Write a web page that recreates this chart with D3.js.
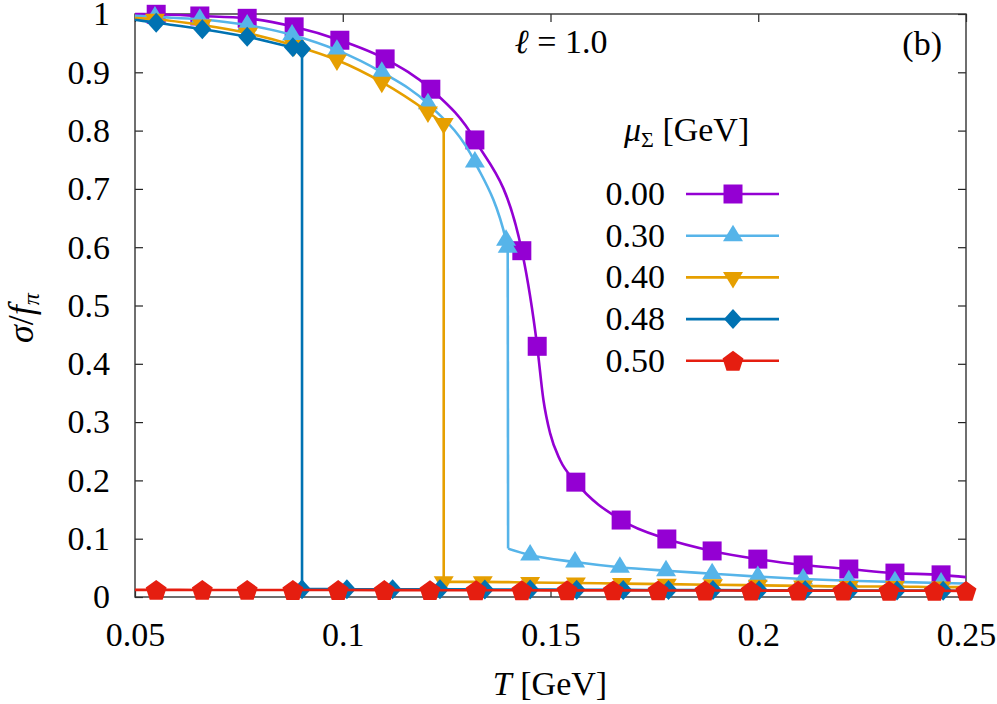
<!DOCTYPE html>
<html><head><meta charset="utf-8">
<script src="https://cdn.jsdelivr.net/npm/d3@7"></script>
<style>body{margin:0;background:#fff}svg{display:block}</style>
</head><body><svg id="c" width="997" height="704"></svg>
<script>
// ---------------- data ----------------
const xTicks = [0.05, 0.1, 0.15, 0.2, 0.25];
const xTickLabels = ["0.05", "0.1", "0.15", "0.2", "0.25"];
const yTicks = [0, 0.1, 0.2, 0.3, 0.4, 0.5, 0.6, 0.7, 0.8, 0.9, 1];
const yTickLabels = ["0", "0.1", "0.2", "0.3", "0.4", "0.5", "0.6", "0.7", "0.8", "0.9", "1"];
const seriesNames = ["0.00", "0.30", "0.40", "0.48", "0.50"];
const seriesColors = ["#9400d3", "#56b4e9", "#e69f00", "#0072b2", "#e51e10"];
const seriesSymbols = ["square", "triangleUp", "triangleDown", "diamond", "pentagon"];

// mu = 0.00 (crossover, single branch)
const mu000_markT = [0.0551, 0.0656, 0.0770, 0.0883, 0.0993, 0.1102, 0.1212, 0.1318, 0.1431, 0.1468, 0.1561, 0.1670, 0.1780, 0.1889, 0.1999, 0.2108, 0.2218, 0.2329, 0.2440];
const mu000_markS = [0.9995, 0.9966, 0.9926, 0.978, 0.955, 0.923, 0.871, 0.784, 0.594, 0.430, 0.197, 0.132, 0.0995, 0.079, 0.065, 0.055, 0.048, 0.041, 0.038];
const mu000_curveT = [0.05, 0.1483, 0.1499, 0.1523, 0.25];
const mu000_curveS = [1.000, 0.338, 0.281, 0.235, 0.034];

// mu = 0.30 (first order, upper and lower branch)
const mu030_hiMarkT = [0.0548, 0.0656, 0.0770, 0.0878, 0.0986, 0.1094, 0.1205, 0.1318, 0.1393, 0.1397];
const mu030_hiMarkS = [0.995, 0.991, 0.981, 0.964, 0.938, 0.900, 0.846, 0.746, 0.612, 0.600];
const mu030_hiCurveT = [0.05];
const mu030_hiCurveS = [0.997];
const mu030_loMarkT = [0.1451, 0.1559, 0.1667, 0.1778, 0.1889, 0.1999, 0.2108, 0.2218, 0.2329, 0.2440];
const mu030_loMarkS = [0.072, 0.060, 0.051, 0.045, 0.040, 0.035, 0.031, 0.028, 0.026, 0.024];
const mu030_loCurveT = [0.1398, 0.25];
const mu030_loCurveS = [0.083, 0.023];

// mu = 0.40
const mu040_hiMarkT = [0.0548, 0.0661, 0.0772, 0.0883, 0.0986, 0.1094, 0.1205, 0.1243];
const mu040_hiMarkS = [0.991, 0.981, 0.967, 0.946, 0.921, 0.883, 0.832, 0.812];
const mu040_hiCurveT = [0.05];
const mu040_hiCurveS = [0.993];
const mu040_loMarkT = [0.1243, 0.1337, 0.1451, 0.1561, 0.1672, 0.1780, 0.1891, 0.1999, 0.2108, 0.2218, 0.2329, 0.2440];
const mu040_loMarkS = [0.026, 0.026, 0.025, 0.024, 0.023, 0.022, 0.021, 0.020, 0.019, 0.018, 0.018, 0.017];
const mu040_loCurveT = [0.25];
const mu040_loCurveS = [0.017];

// mu = 0.48
const mu048_hiMarkT = [0.0551, 0.0662, 0.0770, 0.0880, 0.0902];
const mu048_hiMarkS = [0.985, 0.974, 0.961, 0.943, 0.940];
const mu048_hiCurveT = [0.05];
const mu048_hiCurveS = [0.990];
const mu048_loMarkT = [0.0902, 0.1010, 0.1120, 0.1234, 0.1342, 0.1451, 0.1563, 0.1675, 0.1784, 0.1891, 0.2002, 0.2113, 0.2221, 0.2334, 0.2445];
const mu048_loMarkS = [0.0135, 0.0134, 0.0133, 0.0131, 0.0129, 0.0127, 0.0125, 0.0122, 0.0120, 0.0118, 0.0116, 0.0114, 0.0112, 0.0110, 0.0108];
const mu048_loCurveT = [0.25];
const mu048_loCurveS = [0.0107];

// mu = 0.50 (always restored)
const mu050_markT = [0.0551, 0.0662, 0.0770, 0.0880, 0.0989, 0.1100, 0.1210, 0.1321, 0.1431, 0.1540, 0.1651, 0.1759, 0.1872, 0.1983, 0.2096, 0.2204, 0.2315, 0.2424, 0.2500];
const mu050_markS = [0.0122, 0.0121, 0.0121, 0.0120, 0.0119, 0.0118, 0.0117, 0.0116, 0.0115, 0.0114, 0.0113, 0.0112, 0.0111, 0.0110, 0.0109, 0.0108, 0.0107, 0.0106, 0.0105];
const mu050_curveT = [0.05];
const mu050_curveS = [0.0122];

// ---------------- build ----------------
function zip(T, S) { return T.map((t, i) => [t, S[i]]); }
function branch(mT, mS, cT, cS) {
  const marks = zip(mT, mS);
  const line = marks.concat(zip(cT, cS)).sort((a, b) => a[0] - b[0]);
  return { marks, line };
}
const series = [
  [branch(mu000_markT, mu000_markS, mu000_curveT, mu000_curveS)],
  [branch(mu030_hiMarkT, mu030_hiMarkS, mu030_hiCurveT, mu030_hiCurveS), branch(mu030_loMarkT, mu030_loMarkS, mu030_loCurveT, mu030_loCurveS)],
  [branch(mu040_hiMarkT, mu040_hiMarkS, mu040_hiCurveT, mu040_hiCurveS), branch(mu040_loMarkT, mu040_loMarkS, mu040_loCurveT, mu040_loCurveS)],
  [branch(mu048_hiMarkT, mu048_hiMarkS, mu048_hiCurveT, mu048_hiCurveS), branch(mu048_loMarkT, mu048_loMarkS, mu048_loCurveT, mu048_loCurveS)],
  [branch(mu050_markT, mu050_markS, mu050_curveT, mu050_curveS)]
];

const FONT = "Liberation Serif";
const FS = 34;
const LW = 2.6;
const L = 135, R = 966, TOP = 14, B = 597;
const x = d3.scaleLinear().domain([0.05, 0.25]).range([L, R]);
const y = d3.scaleLinear().domain([0, 1]).range([B, TOP]);

const svg = d3.select("#c");
svg.append("rect").attr("width", 997).attr("height", 704).attr("fill", "#fff");

function styleAxis(g) {
  g.attr("font-family", FONT).attr("font-size", FS);
  g.select(".domain").remove();
  g.selectAll(".tick line").attr("stroke", "#222").attr("stroke-width", 1.2);
  g.selectAll(".tick text").attr("fill", "#000").attr("font-family", FONT).attr("font-size", FS);
}
svg.append("g").attr("transform", `translate(0,${B})`)
  .call(d3.axisBottom(x).tickValues(xTicks).tickSize(-8).tickPadding(25).tickFormat((d, i) => xTickLabels[i]))
  .call(styleAxis);
svg.append("g").attr("transform", `translate(0,${TOP})`)
  .call(d3.axisTop(x).tickValues(xTicks).tickSize(-8).tickFormat(() => ""))
  .call(styleAxis);
svg.append("g").attr("transform", `translate(${L},0)`)
  .call(d3.axisLeft(y).tickValues(yTicks).tickSize(-8).tickPadding(25).tickFormat((d, i) => yTickLabels[i]))
  .call(styleAxis);
svg.append("g").attr("transform", `translate(${R},0)`)
  .call(d3.axisRight(y).tickValues(yTicks).tickSize(-8).tickFormat(() => ""))
  .call(styleAxis);

svg.append("rect").attr("x", L).attr("y", TOP).attr("width", R - L).attr("height", B - TOP)
  .attr("fill", "none").attr("stroke", "#333").attr("stroke-width", 1.4);

function symbolPath(type) {
  const p = d3.path();
  if (type === "square") { const s = 9.5; p.rect(-s, -s, 2 * s, 2 * s); }
  else if (type === "triangleUp") { const w = 10, h = 16.5; p.moveTo(0, -2 * h / 3); p.lineTo(w, h / 3); p.lineTo(-w, h / 3); p.closePath(); }
  else if (type === "triangleDown") { const w = 10, h = 16.5; p.moveTo(0, 2 * h / 3); p.lineTo(w, -h / 3); p.lineTo(-w, -h / 3); p.closePath(); }
  else if (type === "diamond") { const w = 9, h = 10; p.moveTo(0, -h); p.lineTo(w, 0); p.lineTo(0, h); p.lineTo(-w, 0); p.closePath(); }
  else if (type === "pentagon") {
    const r = 11;
    for (let k = 0; k < 5; k++) {
      const a = -Math.PI / 2 + k * 2 * Math.PI / 5;
      const px = r * Math.cos(a), py = r * Math.sin(a) + 1;
      if (k === 0) p.moveTo(px, py); else p.lineTo(px, py);
    }
    p.closePath();
  }
  return p.toString();
}

const line = d3.line().x(d => x(d[0])).y(d => y(d[1])).curve(d3.curveMonotoneX);
const plot = svg.append("g");
series.forEach((branches, si) => {
  const col = seriesColors[si];
  const g = plot.append("g");
  branches.forEach(b => {
    g.append("path").attr("d", line(b.line)).attr("fill", "none")
      .attr("stroke", col).attr("stroke-width", LW).attr("stroke-linejoin", "round");
  });
  if (branches.length === 2) {
    const a = branches[0].line[branches[0].line.length - 1];
    const c = branches[1].line[0];
    g.append("line").attr("x1", x(a[0])).attr("y1", y(a[1])).attr("x2", x(c[0])).attr("y2", y(c[1]))
      .attr("stroke", col).attr("stroke-width", LW);
  }
  const sp = symbolPath(seriesSymbols[si]);
  branches.forEach(b => {
    g.selectAll(null).data(b.marks).enter().append("path")
      .attr("d", sp).attr("fill", col)
      .attr("transform", d => `translate(${x(d[0])},${y(d[1])})`);
  });
});

function txt(xp, yp, anchor) {
  return svg.append("text").attr("x", xp).attr("y", yp).attr("text-anchor", anchor)
    .attr("font-family", FONT).attr("font-size", FS);
}

const xl = txt(550, 695, "middle");
xl.append("tspan").attr("font-style", "italic").text("T");
xl.append("tspan").text(" [GeV]");

const yl = svg.append("text").attr("transform", "translate(33,318) rotate(-90)")
  .attr("text-anchor", "middle").attr("font-family", FONT).attr("font-size", 36);
yl.append("tspan").attr("font-style", "italic").text("σ");
yl.append("tspan").text("/");
yl.append("tspan").attr("font-style", "italic").text("f");
yl.append("tspan").attr("font-style", "italic").attr("font-size", 24).attr("dy", 6).text("π");

const el = txt(561, 53, "middle");
el.append("tspan").attr("font-style", "italic").text("ℓ");
el.append("tspan").text(" = 1.0");

txt(942, 55, "end").text("(b)");

const lt = txt(624, 141, "start");
lt.append("tspan").attr("font-style", "italic").text("μ");
lt.append("tspan").attr("font-size", 22).attr("dy", 6).text("Σ");
lt.append("tspan").attr("dy", -6).text(" [GeV]");

const legRow0 = 194, legStep = 41.7;
seriesNames.forEach((name, i) => {
  const cy = legRow0 + i * legStep;
  txt(665, cy + 11, "end").text(name);
  svg.append("line").attr("x1", 686).attr("x2", 779).attr("y1", cy).attr("y2", cy)
    .attr("stroke", seriesColors[i]).attr("stroke-width", LW);
  svg.append("path").attr("d", symbolPath(seriesSymbols[i])).attr("fill", seriesColors[i])
    .attr("transform", `translate(733,${cy})`);
});
</script>
</body></html>
